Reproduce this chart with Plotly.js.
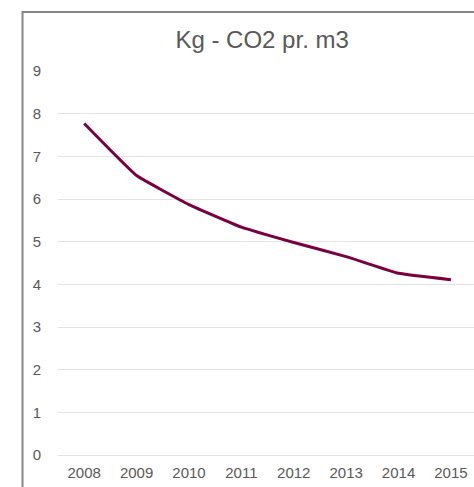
<!DOCTYPE html>
<html>
<head>
<meta charset="utf-8">
<script src="https://cdn.plot.ly/plotly-3.0.1.min.js"></script>
<style>
  html, body { margin: 0; padding: 0; background: #fff; overflow: hidden; width: 474px; height: 487px; }
  #chart { width: 474px; height: 487px; position: relative; overflow: hidden; }
</style>
</head>
<body>
<div id="chart"></div>
<script>
const years = ['2008', '2009', '2010', '2011', '2012', '2013', '2014', '2015'];
const co2PerM3 = [7.77, 6.55, 5.87, 5.34, 4.98, 4.65, 4.26, 4.11];
const yTicks = [0, 1, 2, 3, 4, 5, 6, 7, 8, 9];
const chartTitle = 'Kg - CO2 pr. m3';

const trace = {
  x: years,
  y: co2PerM3,
  type: 'scatter',
  mode: 'lines',
  line: { color: '#7a0040', width: 3, shape: 'spline', smoothing: 0.3 },
  hoverinfo: 'x+y'
};

const layout = {
  width: 474,
  height: 487,
  margin: { l: 58, r: 0, t: 71, b: 32, pad: 0 },
  paper_bgcolor: '#ffffff',
  plot_bgcolor: '#ffffff',
  showlegend: false,
  title: {
    text: chartTitle,
    font: { family: 'Liberation Sans, Arial, sans-serif', size: 24, color: '#595959' },
    x: 0.553, xref: 'container', xanchor: 'center',
    y: 1 - 40 / 487, yref: 'container', yanchor: 'middle'
  },
  shapes: [{
    type: 'path', xref: 'paper', yref: 'paper',
    path: 'M -0.0853,-0.2 L -0.0853,1.1536 L 1.2,1.1536',
    line: { color: '#878787', width: 2 }
  }],
  xaxis: {
    type: 'category',
    range: [-0.5, 7.44],
    showgrid: false,
    zeroline: false,
    showline: false,
    ticks: 'outside', ticklen: 4, tickcolor: 'rgba(0,0,0,0)',
    tickfont: { family: 'Liberation Sans, Arial, sans-serif', size: 15, color: '#595959' },
    fixedrange: true
  },
  yaxis: {
    range: [0, 9],
    tickvals: yTicks,
    ticktext: yTicks.map(String),
    showgrid: true,
    gridcolor: '#e3e3e3',
    gridwidth: 1,
    zeroline: true,
    zerolinecolor: '#e3e3e3',
    zerolinewidth: 1,
    showline: false,
    ticks: 'outside', ticklen: 13, tickcolor: 'rgba(0,0,0,0)',
    tickfont: { family: 'Liberation Sans, Arial, sans-serif', size: 15, color: '#595959' },
    fixedrange: true
  }
};

Plotly.newPlot('chart', [trace], layout, { displayModeBar: false, staticPlot: true });
</script>
</body>
</html>
